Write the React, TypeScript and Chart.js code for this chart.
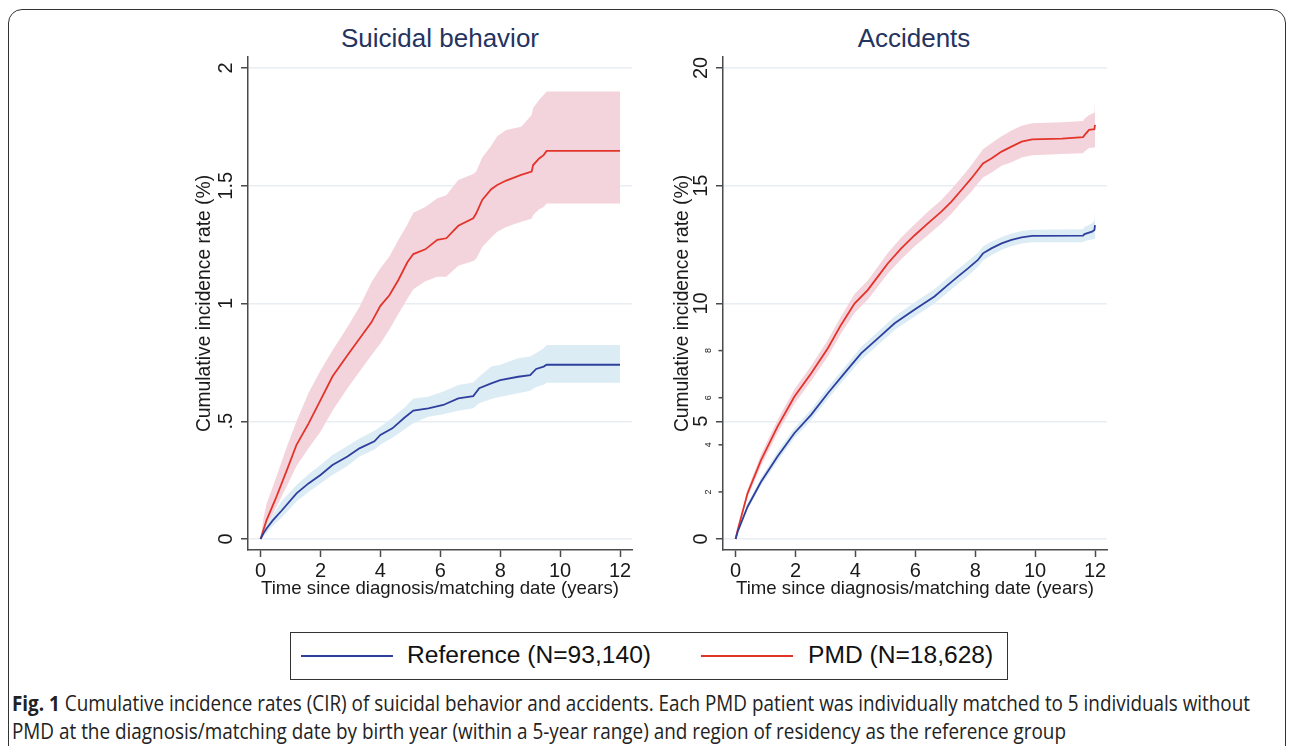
import React, { useEffect, useLayoutEffect, useRef } from 'react';
import { Chart, registerables } from 'chart.js';

Chart.register(...registerables);

const FONT = '"Liberation Sans", Arial, Helvetica, sans-serif';

// ---------- shared axis data ----------
const xTicks = [0, 2, 4, 6, 8, 10, 12];
const xTitle = 'Time since diagnosis/matching date (years)';
const yTitle = 'Cumulative incidence rate (%)';
const panelTitles = ['Suicidal behavior', 'Accidents'];
const legendLabels = ['Reference (N=93,140)', 'PMD (N=18,628)'];

// ---------- Suicidal behavior ----------
const suicYTicks = [0, 0.5, 1, 1.5, 2];
const suicYTickLabels = ['0', '.5', '1', '1.5', '2'];

const suicPmdTime = [0, 0.1, 0.2, 0.5, 0.9, 1.2, 1.6, 2.0, 2.4, 2.9, 3.3, 3.7, 4.0, 4.3, 4.6, 4.9, 5.1, 5.5, 5.9, 6.2, 6.6, 7.1, 7.2, 7.4, 7.7, 7.9, 8.2, 8.7, 9.05, 9.1, 9.3, 9.45, 9.55, 12];
const suicPmd = [0, 0.04, 0.08, 0.17, 0.30, 0.40, 0.49, 0.59, 0.69, 0.78, 0.85, 0.92, 0.99, 1.035, 1.10, 1.175, 1.21, 1.23, 1.27, 1.277, 1.33, 1.362, 1.383, 1.44, 1.485, 1.503, 1.522, 1.546, 1.56, 1.588, 1.616, 1.63, 1.648, 1.648];
const suicPmdHi = [0, 0.09, 0.15, 0.255, 0.40, 0.50, 0.62, 0.715, 0.80, 0.90, 0.985, 1.09, 1.15, 1.20, 1.27, 1.335, 1.385, 1.41, 1.447, 1.46, 1.524, 1.55, 1.56, 1.62, 1.67, 1.71, 1.737, 1.75, 1.80, 1.83, 1.865, 1.885, 1.90, 1.90];
const suicPmdLo = [0, 0.015, 0.05, 0.13, 0.23, 0.31, 0.385, 0.455, 0.545, 0.64, 0.71, 0.78, 0.83, 0.89, 0.955, 1.02, 1.06, 1.095, 1.114, 1.114, 1.16, 1.18, 1.19, 1.24, 1.28, 1.305, 1.325, 1.347, 1.36, 1.376, 1.40, 1.41, 1.425, 1.425];

const suicRefTime = [0, 0.1, 0.2, 0.4, 0.7, 1.2, 1.6, 2.0, 2.4, 2.9, 3.3, 3.8, 4.0, 4.4, 4.8, 5.1, 5.6, 6.1, 6.6, 7.1, 7.3, 7.7, 8.0, 8.6, 9.0, 9.2, 9.45, 9.55, 12];
const suicRef = [0, 0.025, 0.045, 0.078, 0.12, 0.194, 0.236, 0.272, 0.314, 0.35, 0.385, 0.415, 0.442, 0.47, 0.515, 0.545, 0.555, 0.569, 0.597, 0.607, 0.64, 0.661, 0.675, 0.689, 0.696, 0.722, 0.732, 0.74, 0.74];
const suicRefHi = [0, 0.04, 0.067, 0.10, 0.16, 0.229, 0.275, 0.314, 0.357, 0.395, 0.427, 0.46, 0.477, 0.515, 0.557, 0.597, 0.604, 0.626, 0.654, 0.665, 0.69, 0.732, 0.74, 0.767, 0.775, 0.79, 0.81, 0.824, 0.824];
const suicRefLo = [0, 0.012, 0.024, 0.055, 0.09, 0.159, 0.2, 0.236, 0.272, 0.31, 0.35, 0.38, 0.40, 0.43, 0.465, 0.491, 0.519, 0.53, 0.545, 0.555, 0.576, 0.595, 0.604, 0.619, 0.63, 0.645, 0.655, 0.664, 0.664];

// ---------- Accidents ----------
const accYTicks = [0, 5, 10, 15, 20];
const accYTickLabels = ['0', '5', '10', '15', '20'];
const accYMinorTicks = [2, 4, 6, 8];

const accPmdTime = [0, 0.07, 0.4, 0.85, 1.4, 1.96, 2.52, 3.08, 3.52, 3.97, 4.41, 4.75, 5.08, 5.53, 5.98, 6.42, 6.87, 7.2, 7.54, 7.87, 8.09, 8.26, 8.54, 8.88, 9.21, 9.55, 9.9, 10.9, 11.6, 11.65, 11.8, 11.98, 12.0];
const accPmd = [0, 0.38, 1.94, 3.35, 4.77, 6.04, 7.03, 8.1, 9.09, 10.0, 10.57, 11.14, 11.7, 12.34, 12.9, 13.4, 13.9, 14.32, 14.82, 15.31, 15.67, 15.95, 16.16, 16.45, 16.66, 16.87, 16.97, 17.0, 17.06, 17.15, 17.37, 17.4, 17.58];
const accPmdHi = [0, 0.45, 2.1, 3.6, 5.05, 6.35, 7.35, 8.45, 9.45, 10.4, 10.98, 11.56, 12.14, 12.8, 13.37, 13.9, 14.4, 14.85, 15.35, 15.87, 16.25, 16.55, 16.8, 17.1, 17.35, 17.55, 17.65, 17.7, 17.75, 17.85, 18.0, 18.1, 18.57];
const accPmdLo = [0, 0.3, 1.78, 3.1, 4.5, 5.73, 6.71, 7.75, 8.73, 9.6, 10.16, 10.72, 11.26, 11.88, 12.43, 12.9, 13.4, 13.8, 14.3, 14.75, 15.1, 15.35, 15.55, 15.85, 16.0, 16.2, 16.3, 16.35, 16.38, 16.45, 16.6, 16.62, 16.66];

const accRefTime = [0, 0.07, 0.4, 0.85, 1.4, 1.96, 2.52, 3.08, 3.63, 4.19, 4.75, 5.31, 5.98, 6.64, 7.09, 7.42, 7.76, 8.09, 8.26, 8.54, 8.88, 9.21, 9.55, 9.9, 11.6, 11.65, 11.9, 11.98, 12.0];
const accRef = [0, 0.31, 1.37, 2.43, 3.5, 4.49, 5.27, 6.19, 7.03, 7.88, 8.52, 9.16, 9.75, 10.3, 10.79, 11.14, 11.49, 11.85, 12.13, 12.34, 12.55, 12.7, 12.81, 12.87, 12.88, 12.95, 13.05, 13.12, 13.33];
const accRefHi = [0, 0.36, 1.5, 2.6, 3.7, 4.7, 5.5, 6.43, 7.28, 8.15, 8.8, 9.45, 10.05, 10.6, 11.1, 11.45, 11.8, 12.15, 12.42, 12.62, 12.82, 12.97, 13.08, 13.13, 13.15, 13.25, 13.4, 13.55, 13.9];
const accRefLo = [0, 0.26, 1.25, 2.27, 3.3, 4.28, 5.04, 5.95, 6.78, 7.6, 8.24, 8.87, 9.45, 10.0, 10.48, 10.83, 11.18, 11.55, 11.84, 12.05, 12.28, 12.43, 12.55, 12.6, 12.6, 12.65, 12.72, 12.74, 12.78];

// ---------- styles ----------
const BLUE = '#2e3f9e';
const RED = '#e3342b';
const BLUE_BAND = '#dcecf5';
const RED_BAND = '#f4d4dc';
const GRID = '#e8eef3';
const AXIS = '#4a4a4a';
const TEXT = '#1a1a1a';
const TITLE_COLOR = '#25335f';

const xy = (t: number[], v: number[]) => t.map((x, i) => ({ x, y: v[i] }));

const yLabelPlugin = {
  id: 'yLabels',
  afterDraw(chart: any, _args: any, opts: any) {
    const scale = chart.scales.y;
    const ctx = chart.ctx as CanvasRenderingContext2D;
    const axisX = scale.right;
    ctx.save();
    ctx.fillStyle = TEXT;
    ctx.textAlign = 'center';
    ctx.textBaseline = 'middle';
    (opts.major || []).forEach((v: number, i: number) => {
      const y = scale.getPixelForValue(v);
      ctx.save();
      ctx.translate(axisX - opts.offset, y);
      ctx.rotate(-Math.PI / 2);
      ctx.font = `20px ${FONT}`;
      ctx.fillText(opts.labels[i], 0, 0);
      ctx.restore();
    });
    (opts.minor || []).forEach((v: number) => {
      const y = scale.getPixelForValue(v);
      ctx.strokeStyle = AXIS;
      ctx.lineWidth = 1.5;
      ctx.beginPath();
      ctx.moveTo(axisX - 4.5, y);
      ctx.lineTo(axisX, y);
      ctx.stroke();
      ctx.save();
      ctx.translate(axisX - 14.5, y);
      ctx.rotate(-Math.PI / 2);
      ctx.font = `9px ${FONT}`;
      ctx.fillText(String(v), 0, 0);
      ctx.restore();
    });
    ctx.restore();
  },
};

interface Panel {
  refT: number[]; ref: number[]; refHi: number[]; refLo: number[];
  pmdT: number[]; pmd: number[]; pmdHi: number[]; pmdLo: number[];
  yMin: number; yMax: number; yTicks: number[]; yLabels: string[]; yMinor: number[];
  titlePad: number;
}

function buildConfig(p: Panel): any {
  const band = (t: number[], v: number[], color: string, fill: any) => ({
    data: xy(t, v), borderWidth: 0, borderColor: 'rgba(0,0,0,0)', pointRadius: 0,
    backgroundColor: color, fill, order: 3, tension: 0,
  });
  return {
    type: 'line',
    data: {
      datasets: [
        band(p.refT, p.refHi, BLUE_BAND, '+1'),
        band(p.refT, p.refLo, BLUE_BAND, false),
        band(p.pmdT, p.pmdHi, RED_BAND, '+1'),
        band(p.pmdT, p.pmdLo, RED_BAND, false),
        { label: legendLabels[0], data: xy(p.refT, p.ref), borderColor: BLUE, borderWidth: 1.8, pointRadius: 0, fill: false, order: 1 },
        { label: legendLabels[1], data: xy(p.pmdT, p.pmd), borderColor: RED, borderWidth: 1.8, pointRadius: 0, fill: false, order: 1 },
      ],
    },
    options: {
      responsive: false,
      maintainAspectRatio: false,
      animation: false,
      events: [],
      layout: { padding: { top: 12, right: 8, bottom: 15, left: 0 } },
      plugins: {
        legend: { display: false },
        tooltip: { enabled: false },
        title: { display: false },
        yLabels: { major: p.yTicks, labels: p.yLabels, minor: p.yMinor, offset: 22 },
      },
      scales: {
        x: {
          type: 'linear', min: -0.42, max: 12.4,
          afterBuildTicks: (s: any) => { s.ticks = xTicks.map((v) => ({ value: v })); },
          afterFit: (s: any) => { s.height = 50; },
          grid: { drawOnChartArea: false, drawTicks: true, tickLength: 7, tickColor: AXIS, tickWidth: 1.5 },
          border: { display: true, color: AXIS, width: 1.5 },
          ticks: { font: { family: FONT, size: 20 }, color: TEXT, padding: 2, maxRotation: 0, autoSkip: false },
          title: { display: true, text: xTitle, font: { family: FONT, size: 18.6 }, color: TEXT, padding: { top: 0, bottom: 0 } },
        },
        y: {
          type: 'linear', min: p.yMin, max: p.yMax,
          afterBuildTicks: (s: any) => { s.ticks = p.yTicks.map((v) => ({ value: v })); },
          afterFit: (s: any) => { s.width = 63; },
          grid: { color: GRID, lineWidth: 1.5, drawTicks: true, tickLength: 7, tickColor: AXIS, tickWidth: 1.5 },
          border: { display: true, color: AXIS, width: 1.5 },
          ticks: { display: false },
          title: { display: true, text: yTitle, font: { family: FONT, size: 19.3 }, color: TEXT, padding: { top: p.titlePad, bottom: 0 } },
        },
      },
    },
    plugins: [yLabelPlugin],
  };
}

function ChartPanel({ panel, left, width }: { panel: Panel; left: number; width: number }) {
  const ref = useRef<HTMLCanvasElement>(null);
  useEffect(() => {
    if (!ref.current) return;
    const chart = new Chart(ref.current, buildConfig(panel));
    return () => chart.destroy();
  }, [panel]);
  return (
    <canvas ref={ref} width={width} height={570}
      style={{ position: 'absolute', left, top: 45, width, height: 570 }} />
  );
}

const suicPanel: Panel = {
  refT: suicRefTime, ref: suicRef, refHi: suicRefHi, refLo: suicRefLo,
  pmdT: suicPmdTime, pmd: suicPmd, pmdHi: suicPmdHi, pmdLo: suicPmdLo,
  yMin: -0.0467, yMax: 2.0467, yTicks: suicYTicks, yLabels: suicYTickLabels, yMinor: [], titlePad: 8,
};
const accPanel: Panel = {
  refT: accRefTime, ref: accRef, refHi: accRefHi, refLo: accRefLo,
  pmdT: accPmdTime, pmd: accPmd, pmdHi: accPmdHi, pmdLo: accPmdLo,
  yMin: -0.467, yMax: 20.467, yTicks: accYTicks, yLabels: accYTickLabels, yMinor: accYMinorTicks, titlePad: 11,
};

function FitLine({ top, target, children }: { top: number; target: number; children: React.ReactNode }) {
  const ref = useRef<HTMLDivElement>(null);
  useLayoutEffect(() => {
    const el = ref.current;
    if (!el) return;
    el.style.transform = 'none';
    const w = el.getBoundingClientRect().width;
    if (w > 0) el.style.transform = `scaleX(${target / w})`;
  }, [target]);
  return (
    <div ref={ref} style={{
      position: 'absolute', left: 12, top, whiteSpace: 'nowrap', transformOrigin: 'left top',
      fontFamily: '"Open Sans", sans-serif', fontSize: 21, lineHeight: '28px', color: '#222',
    }}>{children}</div>
  );
}

export default function App() {
  return (
    <div style={{ position: 'absolute', left: 0, top: 0, width: 1292, height: 746, overflow: 'hidden', background: '#fff' }}>
      <div style={{
        position: 'absolute', left: 8, top: 9, width: 1278, height: 800,
        border: '1.5px solid #333', borderRadius: 14, boxSizing: 'border-box',
      }} />
      <div style={{ position: 'absolute', left: 240, width: 400, top: 21, textAlign: 'center', fontFamily: FONT, fontSize: 26, lineHeight: '34px', color: TITLE_COLOR }}>{panelTitles[0]}</div>
      <div style={{ position: 'absolute', left: 714, width: 400, top: 21, textAlign: 'center', fontFamily: FONT, fontSize: 26, lineHeight: '34px', color: TITLE_COLOR }}>{panelTitles[1]}</div>
      <ChartPanel panel={suicPanel} left={185} width={455} />
      <ChartPanel panel={accPanel} left={660} width={455} />
      <div style={{
        position: 'absolute', left: 290, top: 632, width: 718, height: 48, boxSizing: 'border-box',
        border: '1.5px solid #333', fontFamily: FONT, fontSize: 24.6, color: '#111',
      }}>
        <div style={{ position: 'absolute', left: 10, top: 22, width: 92, height: 2, background: BLUE }} />
        <div style={{ position: 'absolute', left: 116, top: 7, lineHeight: '30px', whiteSpace: 'nowrap' }}>{legendLabels[0]}</div>
        <div style={{ position: 'absolute', left: 410, top: 22, width: 92, height: 2, background: RED }} />
        <div style={{ position: 'absolute', left: 517, top: 7, lineHeight: '30px', whiteSpace: 'nowrap' }}>{legendLabels[1]}</div>
      </div>
      <FitLine top={689} target={1238}>
        <b>Fig. 1</b> Cumulative incidence rates (CIR) of suicidal behavior and accidents. Each PMD patient was individually matched to 5 individuals without
      </FitLine>
      <FitLine top={717} target={1054}>
        PMD at the diagnosis/matching date by birth year (within a 5-year range) and region of residency as the reference group
      </FitLine>
    </div>
  );
}
